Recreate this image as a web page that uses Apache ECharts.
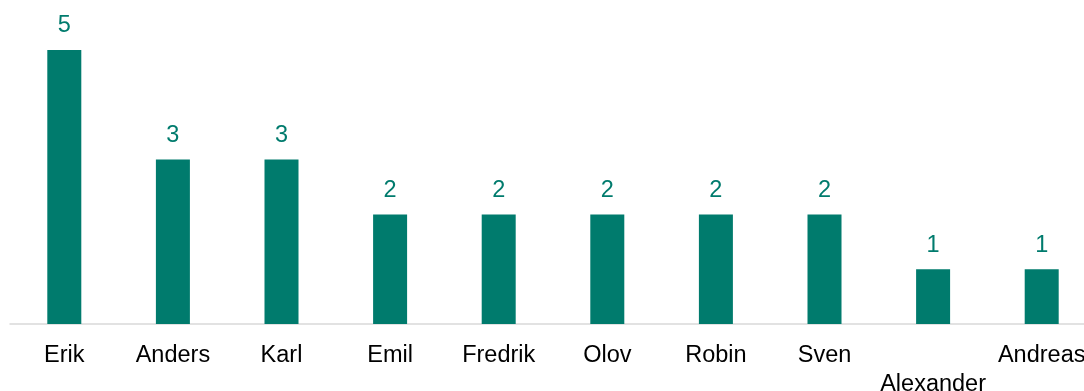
<!DOCTYPE html>
<html>
<head>
<meta charset="utf-8">
<style>
  html, body { margin: 0; padding: 0; background: #ffffff; }
  #chart { width: 1084px; height: 391px; }
</style>
<script src="https://cdn.jsdelivr.net/npm/echarts@6/dist/echarts.min.js"></script>
</head>
<body>
<div id="chart"></div>
<script>
// Most common first names
const names = ['Erik', 'Anders', 'Karl', 'Emil', 'Fredrik', 'Olov', 'Robin', 'Sven', 'Alexander', 'Andreas'];
const counts = [5, 3, 3, 2, 2, 2, 2, 2, 1, 1];
// Names pushed down one line so neighbouring labels do not collide
const loweredNames = ['Alexander'];

const teal = '#007B6D';
const font = 'Arial, "Liberation Sans", sans-serif';

const chart = echarts.init(document.getElementById('chart'));
chart.setOption({
  animation: false,
  // plot area runs slightly past the right edge, clipping the last label
  grid: { left: 10, top: 50, width: 1086, height: 274, outerBoundsMode: 'none', containLabel: false },
  xAxis: {
    type: 'category',
    data: names,
    axisLine: { show: true, lineStyle: { color: '#d9d9d9', width: 1.5 } },
    axisTick: { show: false },
    axisLabel: {
      interval: 0,
      margin: 17,
      color: '#000000',
      fontFamily: font,
      fontSize: 23.5,
      lineHeight: 29,
      hideOverlap: false,
      formatter: v => loweredNames.includes(v) ? '\n' + v : v
    }
  },
  yAxis: {
    type: 'value',
    min: 0,
    max: 5,
    show: false,
    splitLine: { show: false }
  },
  series: [{
    type: 'bar',
    data: counts,
    barWidth: 34,
    itemStyle: { color: teal },
    label: {
      show: true,
      position: 'top',
      distance: 12,
      color: teal,
      fontFamily: font,
      fontSize: 23.5
    }
  }]
});
</script>
</body>
</html>
